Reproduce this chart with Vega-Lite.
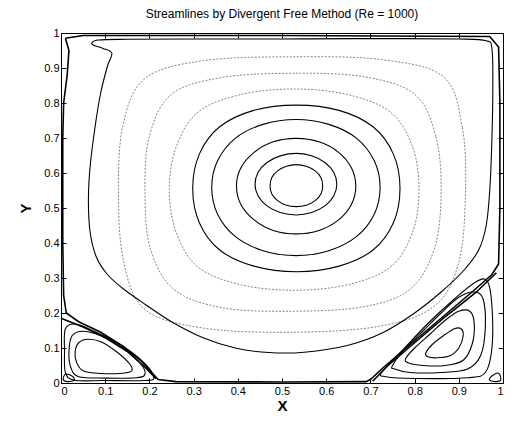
{
  "$schema": "https://vega.github.io/schema/vega-lite/v6.json",
  "width": 442,
  "height": 350,
  "autosize": {"type": "none"},
  "padding": {"left": 61, "top": 33, "right": 11, "bottom": 43},
  "background": "white",
  "config": {
    "view": {"stroke": "black", "strokeWidth": 1},
    "font": "Liberation Sans",
    "axis": {"labelFont": "Liberation Sans", "titleFont": "Liberation Sans", "labelColor": "black", "titleColor": "black", "tickColor": "black", "tickWidth": 1, "grid": false, "domain": false}
  },
  "title": {"text": "Streamlines by Divergent Free Method (Re = 1000)", "fontSize": 12, "fontWeight": "normal", "font": "Liberation Sans", "color": "black", "offset": 6},
  "data": {"values": [
    {"c":"A","i":0,"x":0.592,"y":0.563},{"c":"A","i":1,"x":0.588,"y":0.587},{"c":"A","i":2,"x":0.575,"y":0.606},{"c":"A","i":3,"x":0.555,"y":0.619},{"c":"A","i":4,"x":0.532,"y":0.624},{"c":"A","i":5,"x":0.51,"y":0.619},{"c":"A","i":6,"x":0.49,"y":0.606},{"c":"A","i":7,"x":0.477,"y":0.587},{"c":"A","i":8,"x":0.473,"y":0.563},{"c":"A","i":9,"x":0.477,"y":0.54},{"c":"A","i":10,"x":0.49,"y":0.521},{"c":"A","i":11,"x":0.51,"y":0.508},{"c":"A","i":12,"x":0.532,"y":0.504},{"c":"A","i":13,"x":0.555,"y":0.508},{"c":"A","i":14,"x":0.575,"y":0.521},{"c":"A","i":15,"x":0.588,"y":0.54},
    {"c":"B","i":0,"x":0.624,"y":0.568},{"c":"B","i":1,"x":0.617,"y":0.602},{"c":"B","i":2,"x":0.597,"y":0.63},{"c":"B","i":3,"x":0.567,"y":0.649},{"c":"B","i":4,"x":0.532,"y":0.656},{"c":"B","i":5,"x":0.496,"y":0.649},{"c":"B","i":6,"x":0.466,"y":0.63},{"c":"B","i":7,"x":0.446,"y":0.602},{"c":"B","i":8,"x":0.439,"y":0.568},{"c":"B","i":9,"x":0.446,"y":0.534},{"c":"B","i":10,"x":0.466,"y":0.506},{"c":"B","i":11,"x":0.496,"y":0.487},{"c":"B","i":12,"x":0.532,"y":0.48},{"c":"B","i":13,"x":0.567,"y":0.487},{"c":"B","i":14,"x":0.597,"y":0.506},{"c":"B","i":15,"x":0.617,"y":0.534},
    {"c":"C","i":0,"x":0.667,"y":0.563},{"c":"C","i":1,"x":0.657,"y":0.615},{"c":"C","i":2,"x":0.628,"y":0.659},{"c":"C","i":3,"x":0.584,"y":0.689},{"c":"C","i":4,"x":0.532,"y":0.699},{"c":"C","i":5,"x":0.48,"y":0.689},{"c":"C","i":6,"x":0.437,"y":0.659},{"c":"C","i":7,"x":0.407,"y":0.615},{"c":"C","i":8,"x":0.397,"y":0.563},{"c":"C","i":9,"x":0.407,"y":0.51},{"c":"C","i":10,"x":0.437,"y":0.466},{"c":"C","i":11,"x":0.48,"y":0.436},{"c":"C","i":12,"x":0.532,"y":0.426},{"c":"C","i":13,"x":0.584,"y":0.436},{"c":"C","i":14,"x":0.628,"y":0.466},{"c":"C","i":15,"x":0.657,"y":0.51},
    {"c":"D","i":0,"x":0.722,"y":0.559},{"c":"D","i":1,"x":0.709,"y":0.634},{"c":"D","i":2,"x":0.669,"y":0.699},{"c":"D","i":3,"x":0.606,"y":0.739},{"c":"D","i":4,"x":0.532,"y":0.753},{"c":"D","i":5,"x":0.457,"y":0.739},{"c":"D","i":6,"x":0.394,"y":0.699},{"c":"D","i":7,"x":0.354,"y":0.634},{"c":"D","i":8,"x":0.341,"y":0.559},{"c":"D","i":9,"x":0.354,"y":0.483},{"c":"D","i":10,"x":0.394,"y":0.419},{"c":"D","i":11,"x":0.457,"y":0.378},{"c":"D","i":12,"x":0.532,"y":0.364},{"c":"D","i":13,"x":0.606,"y":0.378},{"c":"D","i":14,"x":0.669,"y":0.419},{"c":"D","i":15,"x":0.709,"y":0.483},
    {"c":"E","i":0,"x":0.767,"y":0.556},{"c":"E","i":1,"x":0.752,"y":0.654},{"c":"E","i":2,"x":0.706,"y":0.732},{"c":"E","i":3,"x":0.629,"y":0.779},{"c":"E","i":4,"x":0.533,"y":0.794},{"c":"E","i":5,"x":0.436,"y":0.779},{"c":"E","i":6,"x":0.359,"y":0.732},{"c":"E","i":7,"x":0.313,"y":0.654},{"c":"E","i":8,"x":0.298,"y":0.556},{"c":"E","i":9,"x":0.313,"y":0.458},{"c":"E","i":10,"x":0.359,"y":0.38},{"c":"E","i":11,"x":0.436,"y":0.334},{"c":"E","i":12,"x":0.533,"y":0.318},{"c":"E","i":13,"x":0.629,"y":0.334},{"c":"E","i":14,"x":0.706,"y":0.38},{"c":"E","i":15,"x":0.752,"y":0.458},
    {"c":"F","i":0,"x":0.81,"y":0.553},{"c":"F","i":1,"x":0.795,"y":0.676},{"c":"F","i":2,"x":0.745,"y":0.774},{"c":"F","i":3,"x":0.649,"y":0.824},{"c":"F","i":4,"x":0.528,"y":0.84},{"c":"F","i":5,"x":0.406,"y":0.824},{"c":"F","i":6,"x":0.31,"y":0.774},{"c":"F","i":7,"x":0.261,"y":0.676},{"c":"F","i":8,"x":0.245,"y":0.553},{"c":"F","i":9,"x":0.261,"y":0.429},{"c":"F","i":10,"x":0.31,"y":0.331},{"c":"F","i":11,"x":0.406,"y":0.281},{"c":"F","i":12,"x":0.528,"y":0.265},{"c":"F","i":13,"x":0.649,"y":0.281},{"c":"F","i":14,"x":0.745,"y":0.331},{"c":"F","i":15,"x":0.795,"y":0.429},
    {"c":"G","i":0,"x":0.86,"y":0.545},{"c":"G","i":1,"x":0.848,"y":0.705},{"c":"G","i":2,"x":0.8,"y":0.825},{"c":"G","i":3,"x":0.685,"y":0.875},{"c":"G","i":4,"x":0.525,"y":0.885},{"c":"G","i":5,"x":0.365,"y":0.873},{"c":"G","i":6,"x":0.25,"y":0.825},{"c":"G","i":7,"x":0.2,"y":0.705},{"c":"G","i":8,"x":0.19,"y":0.545},{"c":"G","i":9,"x":0.202,"y":0.385},{"c":"G","i":10,"x":0.255,"y":0.268},{"c":"G","i":11,"x":0.365,"y":0.215},{"c":"G","i":12,"x":0.525,"y":0.205},{"c":"G","i":13,"x":0.685,"y":0.218},{"c":"G","i":14,"x":0.79,"y":0.268},{"c":"G","i":15,"x":0.845,"y":0.385},
    {"c":"H","i":0,"x":0.915,"y":0.538},{"c":"H","i":1,"x":0.908,"y":0.73},{"c":"H","i":2,"x":0.865,"y":0.875},{"c":"H","i":3,"x":0.725,"y":0.924},{"c":"H","i":4,"x":0.522,"y":0.932},{"c":"H","i":5,"x":0.322,"y":0.921},{"c":"H","i":6,"x":0.19,"y":0.87},{"c":"H","i":7,"x":0.14,"y":0.735},{"c":"H","i":8,"x":0.13,"y":0.538},{"c":"H","i":9,"x":0.142,"y":0.345},{"c":"H","i":10,"x":0.19,"y":0.21},{"c":"H","i":11,"x":0.322,"y":0.157},{"c":"H","i":12,"x":0.522,"y":0.145},{"c":"H","i":13,"x":0.72,"y":0.162},{"c":"H","i":14,"x":0.845,"y":0.22},{"c":"H","i":15,"x":0.9,"y":0.345},
    {"c":"S","i":0,"x":0.07,"y":0.972},{"c":"S","i":1,"x":0.085,"y":0.98},{"c":"S","i":2,"x":0.15,"y":0.982},{"c":"S","i":3,"x":0.3,"y":0.983},{"c":"S","i":4,"x":0.5,"y":0.983},{"c":"S","i":5,"x":0.7,"y":0.984},{"c":"S","i":6,"x":0.9,"y":0.983},{"c":"S","i":7,"x":0.962,"y":0.978},{"c":"S","i":8,"x":0.975,"y":0.955},{"c":"S","i":9,"x":0.977,"y":0.85},{"c":"S","i":10,"x":0.975,"y":0.7},{"c":"S","i":11,"x":0.97,"y":0.55},{"c":"S","i":12,"x":0.962,"y":0.45},{"c":"S","i":13,"x":0.945,"y":0.38},{"c":"S","i":14,"x":0.91,"y":0.32},{"c":"S","i":15,"x":0.86,"y":0.26},{"c":"S","i":16,"x":0.8,"y":0.2},{"c":"S","i":17,"x":0.73,"y":0.145},{"c":"S","i":18,"x":0.65,"y":0.108},{"c":"S","i":19,"x":0.55,"y":0.088},{"c":"S","i":20,"x":0.47,"y":0.087},{"c":"S","i":21,"x":0.394,"y":0.1},{"c":"S","i":22,"x":0.32,"y":0.13},{"c":"S","i":23,"x":0.25,"y":0.175},{"c":"S","i":24,"x":0.19,"y":0.225},{"c":"S","i":25,"x":0.14,"y":0.27},{"c":"S","i":26,"x":0.105,"y":0.31},{"c":"S","i":27,"x":0.08,"y":0.36},{"c":"S","i":28,"x":0.066,"y":0.43},{"c":"S","i":29,"x":0.062,"y":0.52},{"c":"S","i":30,"x":0.066,"y":0.62},{"c":"S","i":31,"x":0.078,"y":0.74},{"c":"S","i":32,"x":0.09,"y":0.83},{"c":"S","i":33,"x":0.105,"y":0.905},{"c":"S","i":34,"x":0.115,"y":0.942},{"c":"S","i":35,"x":0.095,"y":0.956},{"c":"S","i":36,"x":0.075,"y":0.964},
    {"c":"BL1","i":0,"x":0.032,"y":0.09},{"c":"BL1","i":1,"x":0.04,"y":0.115},{"c":"BL1","i":2,"x":0.06,"y":0.125},{"c":"BL1","i":3,"x":0.09,"y":0.118},{"c":"BL1","i":4,"x":0.125,"y":0.09},{"c":"BL1","i":5,"x":0.155,"y":0.055},{"c":"BL1","i":6,"x":0.16,"y":0.035},{"c":"BL1","i":7,"x":0.14,"y":0.028},{"c":"BL1","i":8,"x":0.09,"y":0.027},{"c":"BL1","i":9,"x":0.05,"y":0.035},{"c":"BL1","i":10,"x":0.035,"y":0.06},
    {"c":"BL2","i":0,"x":0.018,"y":0.09},{"c":"BL2","i":1,"x":0.025,"y":0.135},{"c":"BL2","i":2,"x":0.05,"y":0.148},{"c":"BL2","i":3,"x":0.09,"y":0.135},{"c":"BL2","i":4,"x":0.14,"y":0.1},{"c":"BL2","i":5,"x":0.18,"y":0.055},{"c":"BL2","i":6,"x":0.19,"y":0.025},{"c":"BL2","i":7,"x":0.17,"y":0.015},{"c":"BL2","i":8,"x":0.1,"y":0.014},{"c":"BL2","i":9,"x":0.04,"y":0.018},{"c":"BL2","i":10,"x":0.022,"y":0.045},
    {"c":"BL3","i":0,"x":0.008,"y":0.09},{"c":"BL3","i":1,"x":0.01,"y":0.155},{"c":"BL3","i":2,"x":0.035,"y":0.168},{"c":"BL3","i":3,"x":0.08,"y":0.145},{"c":"BL3","i":4,"x":0.14,"y":0.105},{"c":"BL3","i":5,"x":0.19,"y":0.055},{"c":"BL3","i":6,"x":0.21,"y":0.015},{"c":"BL3","i":7,"x":0.19,"y":0.007},{"c":"BL3","i":8,"x":0.1,"y":0.007},{"c":"BL3","i":9,"x":0.03,"y":0.008},{"c":"BL3","i":10,"x":0.01,"y":0.03},
    {"c":"CL","i":0,"x":0.005,"y":0.01},{"c":"CL","i":1,"x":0.01,"y":0.025},{"c":"CL","i":2,"x":0.025,"y":0.02},{"c":"CL","i":3,"x":0.03,"y":0.008},{"c":"CL","i":4,"x":0.015,"y":0.004},
    {"c":"CR","i":0,"x":0.995,"y":0.01},{"c":"CR","i":1,"x":0.99,"y":0.028},{"c":"CR","i":2,"x":0.975,"y":0.02},{"c":"CR","i":3,"x":0.97,"y":0.008},{"c":"CR","i":4,"x":0.985,"y":0.004},
    {"c":"BR1","i":0,"x":0.825,"y":0.085},{"c":"BR1","i":1,"x":0.84,"y":0.11},{"c":"BR1","i":2,"x":0.865,"y":0.135},{"c":"BR1","i":3,"x":0.89,"y":0.155},{"c":"BR1","i":4,"x":0.905,"y":0.155},{"c":"BR1","i":5,"x":0.91,"y":0.135},{"c":"BR1","i":6,"x":0.9,"y":0.1},{"c":"BR1","i":7,"x":0.88,"y":0.078},{"c":"BR1","i":8,"x":0.85,"y":0.072},{"c":"BR1","i":9,"x":0.83,"y":0.075},
    {"c":"BR2","i":0,"x":0.78,"y":0.07},{"c":"BR2","i":1,"x":0.8,"y":0.1},{"c":"BR2","i":2,"x":0.835,"y":0.14},{"c":"BR2","i":3,"x":0.87,"y":0.18},{"c":"BR2","i":4,"x":0.9,"y":0.205},{"c":"BR2","i":5,"x":0.925,"y":0.205},{"c":"BR2","i":6,"x":0.935,"y":0.17},{"c":"BR2","i":7,"x":0.93,"y":0.11},{"c":"BR2","i":8,"x":0.91,"y":0.065},{"c":"BR2","i":9,"x":0.87,"y":0.05},{"c":"BR2","i":10,"x":0.82,"y":0.05},{"c":"BR2","i":11,"x":0.785,"y":0.058},
    {"c":"BR3","i":0,"x":0.75,"y":0.05},{"c":"BR3","i":1,"x":0.78,"y":0.1},{"c":"BR3","i":2,"x":0.82,"y":0.15},{"c":"BR3","i":3,"x":0.86,"y":0.2},{"c":"BR3","i":4,"x":0.9,"y":0.245},{"c":"BR3","i":5,"x":0.935,"y":0.26},{"c":"BR3","i":6,"x":0.955,"y":0.24},{"c":"BR3","i":7,"x":0.96,"y":0.16},{"c":"BR3","i":8,"x":0.95,"y":0.08},{"c":"BR3","i":9,"x":0.92,"y":0.04},{"c":"BR3","i":10,"x":0.86,"y":0.03},{"c":"BR3","i":11,"x":0.79,"y":0.03},{"c":"BR3","i":12,"x":0.755,"y":0.04},
    {"c":"BR4","i":0,"x":0.725,"y":0.03},{"c":"BR4","i":1,"x":0.77,"y":0.09},{"c":"BR4","i":2,"x":0.83,"y":0.17},{"c":"BR4","i":3,"x":0.89,"y":0.24},{"c":"BR4","i":4,"x":0.94,"y":0.29},{"c":"BR4","i":5,"x":0.965,"y":0.29},{"c":"BR4","i":6,"x":0.975,"y":0.22},{"c":"BR4","i":7,"x":0.975,"y":0.1},{"c":"BR4","i":8,"x":0.96,"y":0.03},{"c":"BR4","i":9,"x":0.92,"y":0.015},{"c":"BR4","i":10,"x":0.8,"y":0.013},{"c":"BR4","i":11,"x":0.735,"y":0.018},
    {"c":"W","i":0,"x":0.01,"y":0.985},{"c":"W","i":1,"x":0.018,"y":0.95},{"c":"W","i":2,"x":0.014,"y":0.88},{"c":"W","i":3,"x":0.006,"y":0.8},{"c":"W","i":4,"x":0.004,"y":0.7},{"c":"W","i":5,"x":0.004,"y":0.4},{"c":"W","i":6,"x":0.006,"y":0.25},{"c":"W","i":7,"x":0.012,"y":0.2},{"c":"W","i":8,"x":0.04,"y":0.175},{"c":"W","i":9,"x":0.09,"y":0.145},{"c":"W","i":10,"x":0.14,"y":0.105},{"c":"W","i":11,"x":0.18,"y":0.065},{"c":"W","i":12,"x":0.205,"y":0.03},{"c":"W","i":13,"x":0.22,"y":0.01},{"c":"W","i":14,"x":0.26,"y":0.004},{"c":"W","i":15,"x":0.5,"y":0.003},{"c":"W","i":16,"x":0.69,"y":0.004},{"c":"W","i":17,"x":0.7,"y":0.01},{"c":"W","i":18,"x":0.73,"y":0.045},{"c":"W","i":19,"x":0.79,"y":0.11},{"c":"W","i":20,"x":0.86,"y":0.185},{"c":"W","i":21,"x":0.93,"y":0.26},{"c":"W","i":22,"x":0.975,"y":0.31},{"c":"W","i":23,"x":0.99,"y":0.34},{"c":"W","i":24,"x":0.993,"y":0.5},{"c":"W","i":25,"x":0.993,"y":0.8},{"c":"W","i":26,"x":0.99,"y":0.96},{"c":"W","i":27,"x":0.97,"y":0.99},{"c":"W","i":28,"x":0.5,"y":0.993},{"c":"W","i":29,"x":0.05,"y":0.993},{"c":"W","i":30,"x":0.01,"y":0.985},
    {"c":"SL2","i":0,"x":0.0,"y":0.185},{"c":"SL2","i":1,"x":0.05,"y":0.16},{"c":"SL2","i":2,"x":0.1,"y":0.13},{"c":"SL2","i":3,"x":0.15,"y":0.09},{"c":"SL2","i":4,"x":0.19,"y":0.045},{"c":"SL2","i":5,"x":0.215,"y":0.012},
    {"c":"SR2","i":0,"x":0.705,"y":0.005},{"c":"SR2","i":1,"x":0.74,"y":0.05},{"c":"SR2","i":2,"x":0.8,"y":0.115},{"c":"SR2","i":3,"x":0.87,"y":0.19},{"c":"SR2","i":4,"x":0.94,"y":0.26},{"c":"SR2","i":5,"x":0.985,"y":0.315}
  ]},
  "resolve": {"axis": {"x": "independent", "y": "independent"}},
  "layer": [
    {
      "transform": [{"filter": {"field": "c", "oneOf": ["F", "G", "H"]}}],
      "mark": {"type": "line", "color": "#777777", "strokeWidth": 0.9, "strokeDash": [2, 1.5], "interpolate": "cardinal-closed"},
      "encoding": {
        "x": {"field": "x", "type": "quantitative", "scale": {"domain": [0, 1], "nice": false},
          "axis": {"orient": "bottom", "values": [0, 0.1, 0.2, 0.3, 0.4, 0.5, 0.6, 0.7, 0.8, 0.9, 1], "format": "~g", "tickSize": -5, "labelPadding": 7, "labelFontSize": 11, "title": "X", "titleFontSize": 15, "titleFontWeight": "bold", "titlePadding": 2}},
        "y": {"field": "y", "type": "quantitative", "scale": {"domain": [0, 1], "nice": false},
          "axis": {"orient": "left", "values": [0, 0.1, 0.2, 0.3, 0.4, 0.5, 0.6, 0.7, 0.8, 0.9, 1], "format": "~g", "tickSize": -5, "labelPadding": 7, "labelFontSize": 11, "title": "Y", "titleFontSize": 15, "titleFontWeight": "bold", "titlePadding": 10}},
        "detail": {"field": "c"},
        "order": {"field": "i", "type": "quantitative"}
      }
    },
    {
      "transform": [{"filter": {"field": "c", "oneOf": ["A", "B", "C", "D", "E", "S", "BL1", "BL2", "BL3", "BR1", "BR2", "BR3", "BR4", "CL", "CR"]}}],
      "mark": {"type": "line", "color": "black", "strokeWidth": 1.1, "interpolate": "cardinal-closed"},
      "encoding": {
        "x": {"field": "x", "type": "quantitative", "scale": {"domain": [0, 1], "nice": false},
          "axis": {"orient": "top", "values": [0, 0.1, 0.2, 0.3, 0.4, 0.5, 0.6, 0.7, 0.8, 0.9, 1], "tickSize": -5, "labels": false, "title": null}},
        "y": {"field": "y", "type": "quantitative", "scale": {"domain": [0, 1], "nice": false},
          "axis": {"orient": "right", "values": [0, 0.1, 0.2, 0.3, 0.4, 0.5, 0.6, 0.7, 0.8, 0.9, 1], "tickSize": -5, "labels": false, "title": null}},
        "detail": {"field": "c"},
        "order": {"field": "i", "type": "quantitative"}
      }
    },
    {
      "transform": [{"filter": {"field": "c", "oneOf": ["W", "SL2", "SR2"]}}],
      "mark": {"type": "line", "color": "black", "strokeWidth": 1.6},
      "encoding": {
        "x": {"field": "x", "type": "quantitative", "scale": {"domain": [0, 1], "nice": false}, "axis": null},
        "y": {"field": "y", "type": "quantitative", "scale": {"domain": [0, 1], "nice": false}, "axis": null},
        "detail": {"field": "c"},
        "order": {"field": "i", "type": "quantitative"}
      }
    }
  ]
}
